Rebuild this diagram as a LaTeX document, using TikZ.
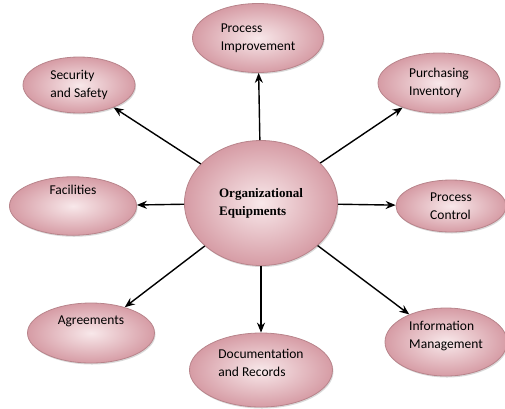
\documentclass[tikz,border=0pt]{standalone}
\usepackage{fontspec}
\setmainfont{Carlito}
\newfontfamily\hubfont{Liberation Serif}
\usetikzlibrary{shapes.geometric, arrows, arrows.meta, shadows}
\definecolor{petal}{HTML}{D69CA5}
\definecolor{petallight}{HTML}{F8E8EA}
\definecolor{petaledge}{HTML}{B8848B}
\tikzstyle{arrow} = [line width=1.4pt,-{Stealth[length=10pt,width=8pt]}]
\tikzstyle{bubble} = [ellipse, draw=petaledge, line width=0.8pt, inner sep=0pt, inner color=petallight, outer color=petal,
  drop shadow={shadow xshift=1pt, shadow yshift=-1.5pt, opacity=0.3},
  minimum width=127pt, minimum height=60pt, align=left, font=\fontsize{13.5}{18}\selectfont]

\begin{document}
\begin{tikzpicture}[x=1pt, y=-1pt]
                \useasboundingbox (0,0) rectangle (505,408);
                \node (hub) [bubble, minimum width=153pt, minimum height=125pt, font=\hubfont\bfseries\fontsize{13}{18}\selectfont] at (261,203) {Organizational\\Equipments};
                \node (improve) [bubble, minimum width=131pt, minimum height=69pt] at (258,38) {Process\\Improvement};
                \node (security) [bubble, minimum width=112pt, minimum height=56pt] at (79,85) {Security\\and Safety};
                \node (purchase) [bubble, minimum width=122pt] at (439,83) {Purchasing\\Inventory};
                \node (facility) [bubble, minimum height=57pt] at (73,206) {Facilities\\[14pt]};
                \node (control) [bubble, minimum width=110pt, minimum height=52pt] at (451,206) {Process\\Control};
                \node (agree) [bubble] at (91,333) {Agreements\\[8pt]};
                \node (docs) [bubble, minimum width=143pt, minimum height=74pt] at (261,370) {Documentation\\and Records\\[-4pt]};
                \node (info) [bubble, minimum width=122pt, minimum height=68pt] at (446,342) {Information\\Management\\[-4pt]};

                \draw [arrow] (hub) -- (improve);
                \draw [arrow] (hub) -- (security);
                \draw [arrow] (hub) -- (purchase);
                \draw [arrow] (hub) -- (facility);
                \draw [arrow] (hub) -- (control);
                \draw [arrow] (hub) -- (agree);
                \draw [arrow] (hub) -- (docs);
                \draw [arrow] (hub) -- (info);
            \end{tikzpicture}
\end{document}
